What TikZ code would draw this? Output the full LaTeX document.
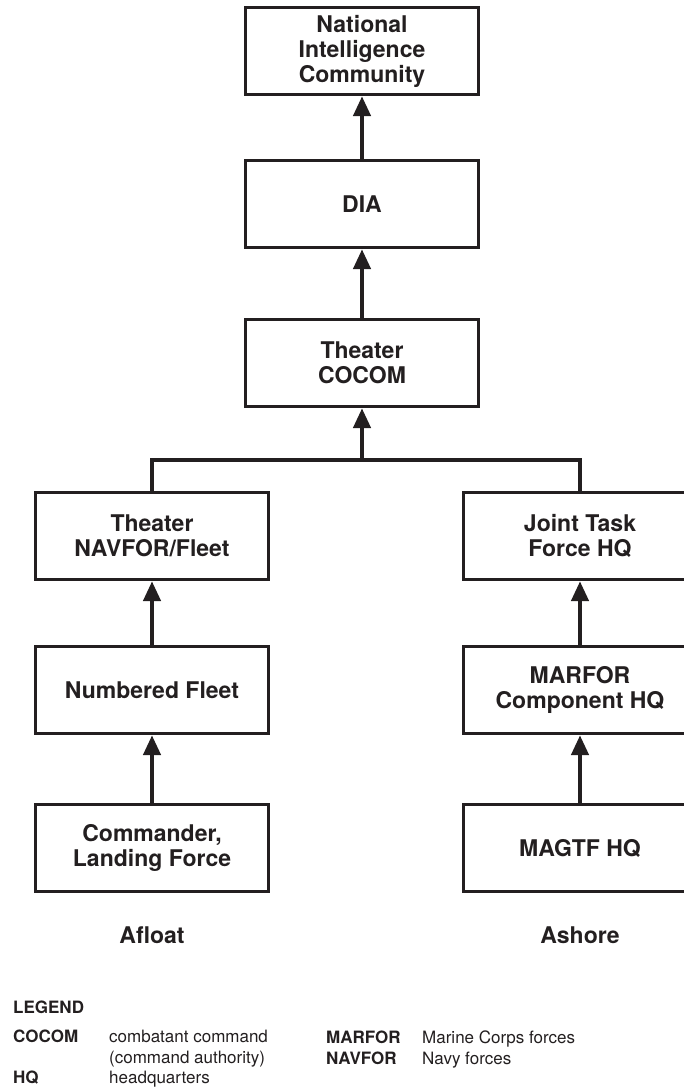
\documentclass[tikz,border=0pt]{standalone}
\usepackage{fontspec}
\setmainfont{TeX Gyre Heros}
\usetikzlibrary{arrows.meta}
\definecolor{ink}{RGB}{35,31,32}

\tikzset{
  box/.style={draw=ink,line width=3.3pt,minimum width=233pt,minimum height=87pt,
    inner sep=0pt,align=center,text=ink,font=\fontsize{23}{25}\selectfont\bfseries},
  link/.style={draw=ink,line width=4.5pt,line join=miter,-{Triangle[length=20pt,width=17pt]}},
  tie/.style={draw=ink,line width=4.5pt,line join=miter},
  side/.style={text=ink,font=\fontsize{23}{25}\selectfont\bfseries,anchor=base},
  key/.style={text=ink,anchor=base west,inner sep=0pt,font=\fontsize{17}{21}\selectfont\bfseries},
  meaning/.style={text=ink,anchor=base west,inner sep=0pt,font=\fontsize{17}{21}\selectfont}
}

\begin{document}
\begin{tikzpicture}[x=1pt,y=-1pt]

        \clip (0,0) rectangle (684,1088);

        \begin{scope}[every node/.style={box}]
          \node (nic)    at (362,51)  {National\\Intelligence\\Community};
          \node (dia)    at (362,204) {DIA};
          \node (cocom)  at (362,363) {Theater\\COCOM};
          \node (navfor) at (152,536) {Theater\\NAVFOR/Fleet};
          \node (fleet)  at (152,690) {Numbered Fleet};
          \node (clf)    at (152,848) {Commander,\\Landing Force};
          \node (jtf)    at (580,536) {Joint Task\\Force HQ};
          \node (marfor) at (580,690) {MARFOR\\Component HQ};
          \node (magtf)  at (580,848) {MAGTF HQ};
        \end{scope}

        \coordinate (join) at (362,460);

        \path[link] (dia.north)    -- (nic.south);
        \path[link] (cocom.north)  -- (dia.south);
        \path[link] (join)         -- (cocom.south);
        \path[tie]  (navfor.north) |- (join) -| (jtf.north);
        \path[link] (fleet.north)  -- (navfor.south);
        \path[link] (clf.north)    -- (fleet.south);
        \path[link] (marfor.north) -- (jtf.south);
        \path[link] (magtf.north)  -- (marfor.south);

        \node[side] (afloat) at (152,943) {Afloat};
        \node[side] (ashore) at (580,943) {Ashore};

        % legend
        \node[key]     (legend) at (13,1013)  {LEGEND};
        \node[key]     (k1)     at (13,1042)  {COCOM};
        \node[meaning] (m1)     at (109,1042) {combatant command};
        \node[meaning] (m1b)    at (109,1063) {(command authority)};
        \node[key]     (k2)     at (13,1083)  {HQ};
        \node[meaning] (m2)     at (109,1083) {headquarters};
        \node[key]     (k3)     at (326,1043) {MARFOR};
        \node[meaning] (m3)     at (422,1043) {Marine Corps forces};
        \node[key]     (k4)     at (326,1064) {NAVFOR};
        \node[meaning] (m4)     at (422,1064) {Navy forces};

      \end{tikzpicture}
\end{document}
